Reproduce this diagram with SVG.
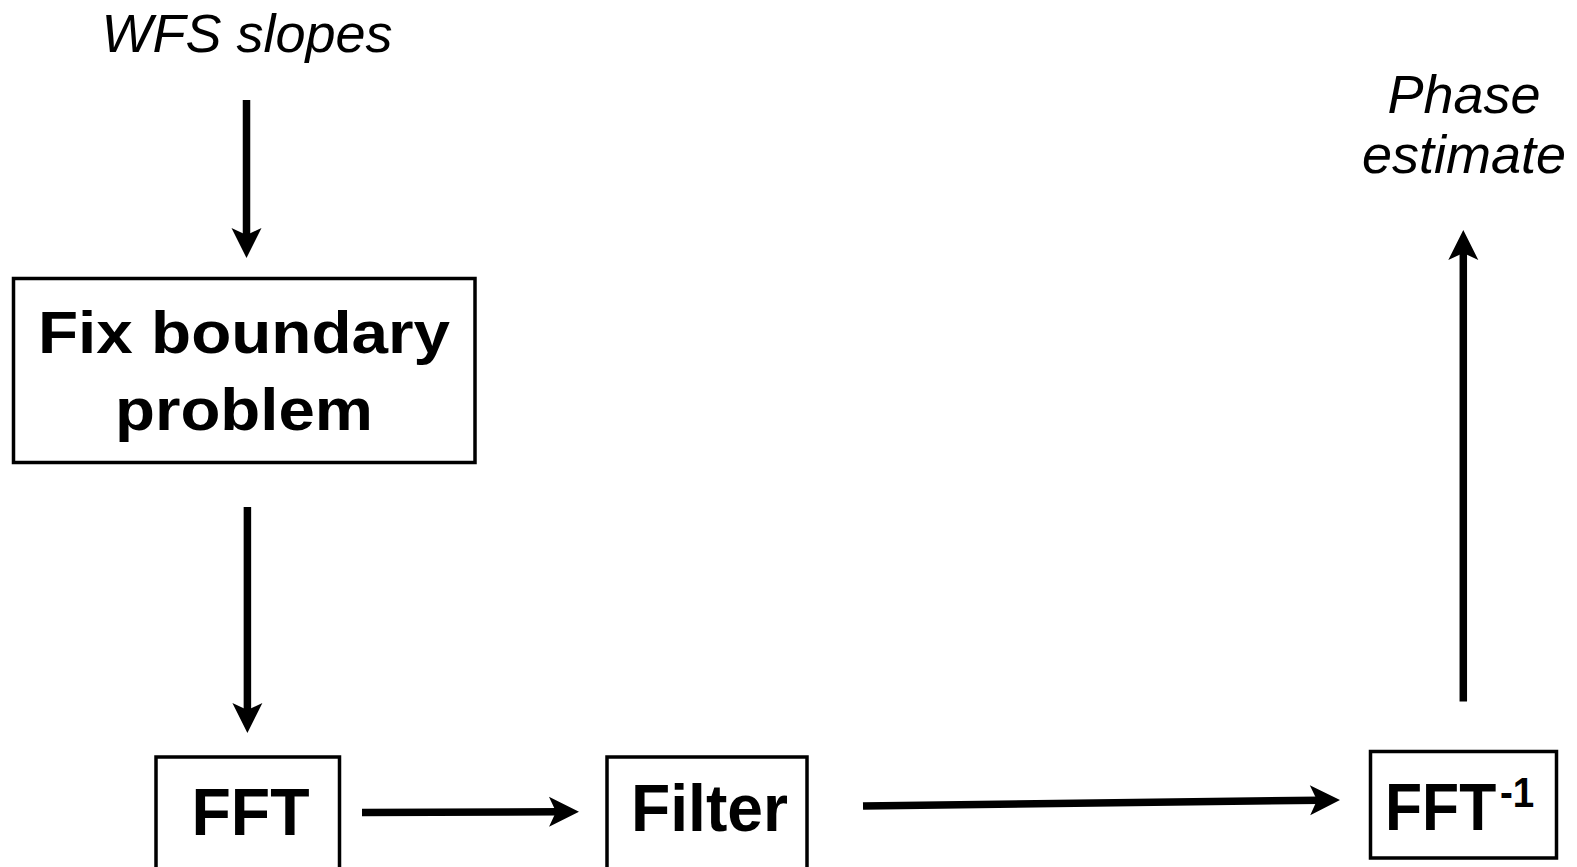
<svg xmlns="http://www.w3.org/2000/svg" width="1577" height="867" viewBox="0 0 1577 867">
<style>
.box{fill:#fff;stroke:#000;stroke-width:3.5}
.lbl{font-family:"Liberation Sans",Arial,sans-serif;font-weight:bold;fill:#000}
.it{font-family:"Liberation Sans",Arial,sans-serif;font-style:italic;font-size:54px;fill:#000;text-anchor:middle}
.con{stroke:#000;stroke-width:7.5;fill:none;marker-end:url(#ah)}
</style>
<defs>
<marker id="ah" markerUnits="userSpaceOnUse" viewBox="-31 -16 32 32" markerWidth="32" markerHeight="32" refX="-20" refY="0" orient="auto">
<path d="M0,0 L-30,-15 L-23,0 L-30,15 Z" fill="#000"/>
</marker>
</defs>
<rect width="1577" height="867" fill="#fff"/>
<g id="wfs-slopes"><text class="it" x="247" y="52">WFS slopes</text></g>
<g id="phase-estimate"><text class="it" x="1464" y="113">Phase</text><text class="it" x="1464" y="173">estimate</text></g>
<g id="fix-boundary">
<rect class="box" x="13.5" y="278.5" width="461.5" height="184"/>
<text class="lbl" font-size="60" x="38" y="353" textLength="412" lengthAdjust="spacingAndGlyphs">Fix boundary</text>
<text class="lbl" font-size="60" x="115" y="430" textLength="258" lengthAdjust="spacingAndGlyphs">problem</text>
</g>
<g id="fft">
<rect class="box" x="156" y="757" width="183.5" height="130"/>
<text class="lbl" font-size="66" x="191.5" y="835" textLength="118" lengthAdjust="spacingAndGlyphs">FFT</text>
</g>
<g id="filter">
<rect class="box" x="607" y="757" width="200" height="130"/>
<text class="lbl" font-size="66" x="631" y="831" textLength="157" lengthAdjust="spacingAndGlyphs">Filter</text>
</g>
<g id="fft-inverse">
<rect class="box" x="1370.5" y="751.5" width="186" height="106.5"/>
<text class="lbl" font-size="66" transform="translate(1385,830) scale(0.92,1)" x="0" y="0">FFT<tspan font-size="42" dx="4" dy="-23.5">-1</tspan></text>
</g>
<g id="connectors">
<line class="con" x1="246.5" y1="100" x2="246.5" y2="238"/>
<line class="con" x1="247.4" y1="507" x2="247.4" y2="713"/>
<line class="con" x1="362" y1="812.5" x2="559" y2="811.8"/>
<line class="con" x1="863" y1="806" x2="1320" y2="800.2"/>
<line class="con" x1="1463.3" y1="701.5" x2="1463.3" y2="250"/>
</g>
</svg>
